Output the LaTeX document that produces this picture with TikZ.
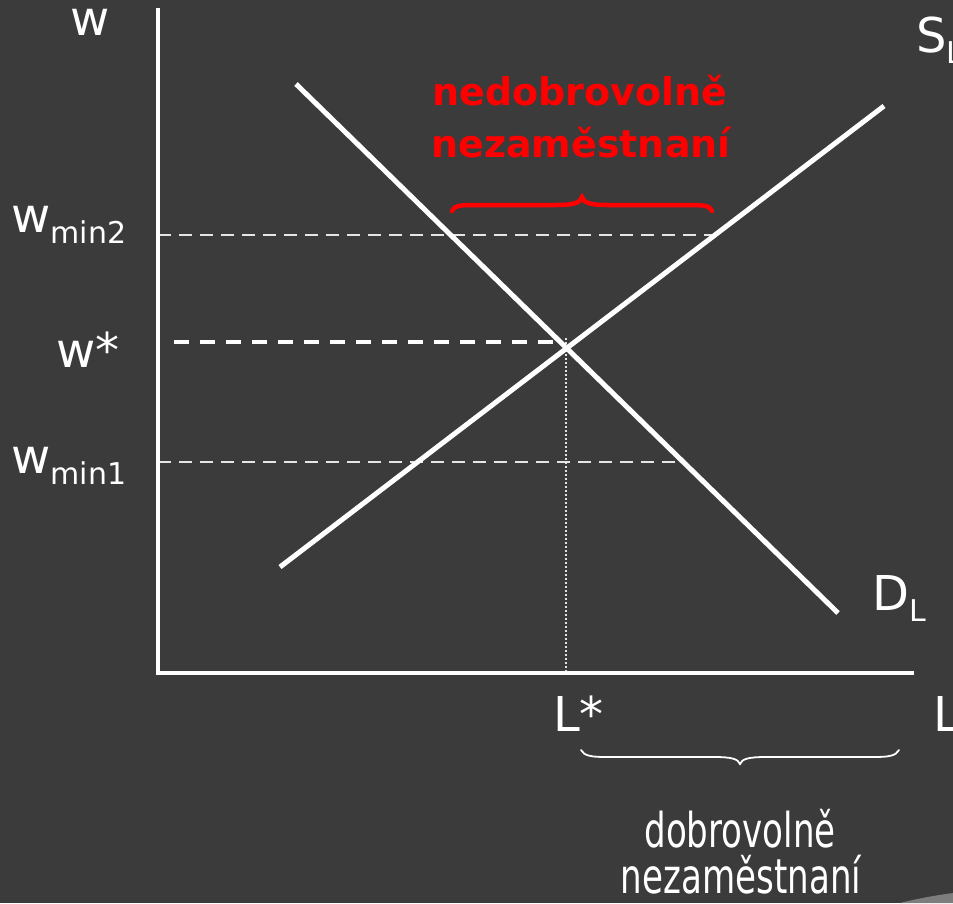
\documentclass[tikz,border=0pt]{standalone}
\usepackage{fontspec}
\setmainfont{DejaVu Sans}
\usepackage{graphicx}
\definecolor{bg}{RGB}{59,59,59}
\definecolor{wedge}{RGB}{125,125,125}
\definecolor{redtxt}{RGB}{255,0,0}
\newcommand\lbl[2]{{\fontsize{48}{48}\selectfont #1}\raisebox{-11pt}{\fontsize{30}{30}\selectfont #2}}
\newcommand\btxt[1]{\scalebox{0.71}[1]{\fontsize{48}{48}\selectfont #1}}
\tikzset{
  lab/.style={inner sep=0pt,text=white,anchor=base west},
  curve/.style={draw=white,line width=5pt},
  axis/.style={draw=white,line width=3.5pt},
  thindash/.style={draw=white!90!black,line width=1.6pt,dash pattern=on 13pt off 8pt},
  thickdash/.style={draw=white,line width=3.5pt,dash pattern=on 15pt off 11pt},
  dotline/.style={draw=white!90!black,line width=1.5pt,dash pattern=on 2pt off 2pt},
  redbrace/.style={draw=redtxt,line width=4.5pt,line cap=round},
  whitebrace/.style={draw=white,line width=1.8pt,line cap=round},
  redlab/.style={inner sep=0pt,text=redtxt,anchor=base,font=\fontsize{38}{38}\selectfont\bfseries},
  botlab/.style={inner sep=0pt,text=white,anchor=base}
}
\begin{document}
\begin{tikzpicture}[x=1pt,y=-1pt]
\fill[bg] (0,0) rectangle (953,903);
\useasboundingbox (0,0) rectangle (953,903);
\fill[wedge] (900,903) .. controls (920,898) and (938,895) .. (953,893) -- (953,903) -- cycle;
% coordinates
\coordinate (O) at (158,673);
\coordinate (ytop) at (158,8);
\coordinate (xend) at (914,673);
\coordinate (d1) at (296,84);
\coordinate (d2) at (838,613);
\coordinate (s1) at (280,567);
\coordinate (s2) at (884,106);
\coordinate (E) at (566,348);
\coordinate (Ebot) at (566,673);
\coordinate (ws) at (174,342);
\coordinate (wse) at (558,342);
\coordinate (m2a) at (158,235);
\coordinate (m2b) at (715,235);
\coordinate (m1a) at (158,462);
\coordinate (m1b) at (678,462);
% dashed guides
\draw[thindash] (m2a) -- (m2b);
\draw[thindash] (m1a) -- (m1b);
\draw[thickdash] (ws) -- (wse);
\draw[dotline] (566,338) -- (Ebot);
% axes
\draw[axis] (ytop) -- (O) -- (xend);
% curves
\draw[curve] (d1) -- (d2);
\draw[curve] (s1) -- (s2);
% red brace
\draw[redbrace] (452,211) .. controls (454,205) and (462,205) .. (478,205) -- (556,205)
  .. controls (574,205) and (580,203) .. (582,197)
  .. controls (584,203) and (590,205) .. (608,205) -- (686,205)
  .. controls (702,205) and (710,205) .. (712,211);
% white brace
\draw[whitebrace] (581,750) .. controls (584,756) and (592,757) .. (606,757) -- (714,757)
  .. controls (732,757) and (738,759) .. (740,764)
  .. controls (742,759) and (748,757) .. (766,757) -- (874,757)
  .. controls (888,757) and (896,756) .. (899,750);
% labels
\node[lab] (lw) at (70,35) {\lbl{w}{}};
\node[lab] (lwmin2) at (11,232) {\lbl{w}{min2}};
\node[lab] (lwstar) at (56,367) {\lbl{w*}{}};
\node[lab] (lwmin1) at (11,473) {\lbl{w}{min1}};
\node[lab] (lSL) at (916,52) {\lbl{S}{L}};
\node[lab] (lDL) at (872,610) {\lbl{D}{L}};
\node[lab] (lLstar) at (553,731) {\lbl{L*}{}};
\node[lab] (lL) at (933,731) {\lbl{L}{}};
% red text
\node[redlab] (red1) at (580,105) {nedobrovolně};
\node[redlab] (red2) at (581,157) {nezaměstnaní};
% bottom text
\node[botlab] (bot1) at (740,847) {\btxt{dobrovolně}};
\node[botlab] (bot2) at (741,893) {\btxt{nezaměstnaní}};
\end{tikzpicture}
\end{document}
